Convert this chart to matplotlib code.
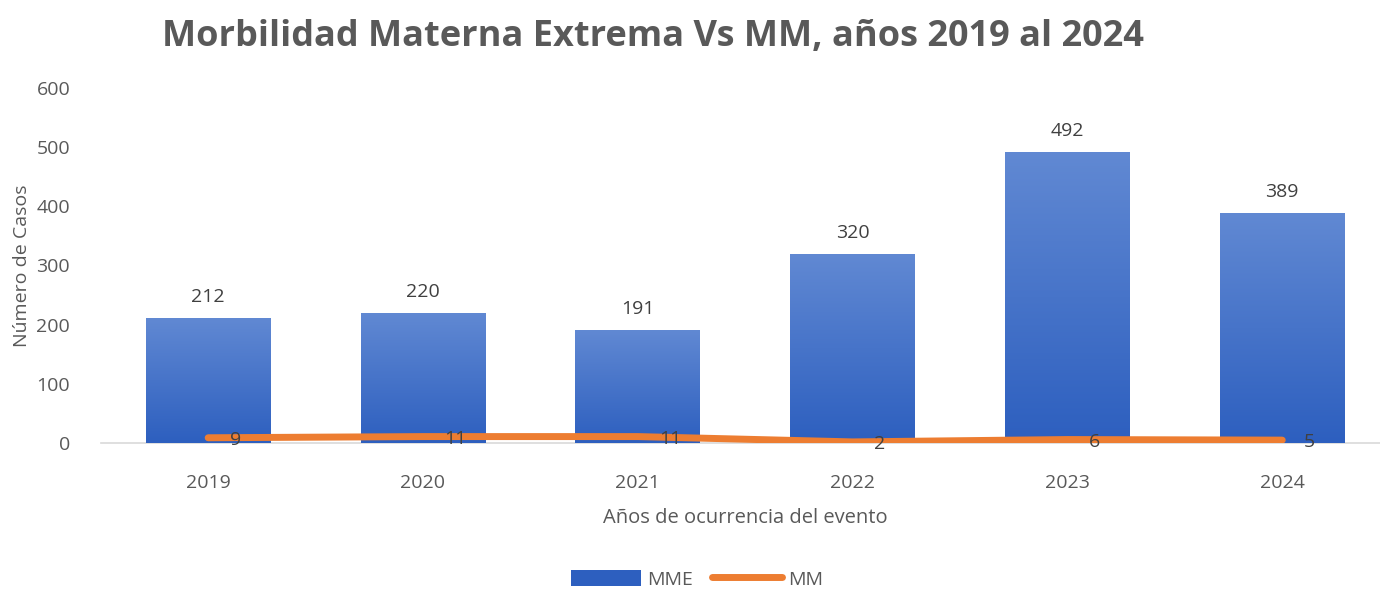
import numpy as np
import matplotlib.pyplot as plt
from matplotlib.colors import LinearSegmentedColormap
from matplotlib.lines import Line2D
from matplotlib.patches import Patch

plt.rcParams['font.family'] = ['Open Sans', 'DejaVu Sans']

years = ["2019", "2020", "2021", "2022", "2023", "2024"]
mme = [212, 220, 191, 320, 492, 389]
mm = [9, 11, 11, 2, 6, 5]

BLUE_TOP = "#6189d3"
BLUE_BOT = "#2d5fbf"
ORANGE = "#ed7d31"
GREY = "#595959"

fig = plt.figure(figsize=(13.8, 5.9), dpi=100)
ax = fig.add_axes([0.073, 0.249, 0.934, 0.602])

x = np.arange(len(years))
bars = ax.bar(x, mme, width=0.58, color=BLUE_BOT, zorder=2)

# vertical gradient inside each bar
cmap = LinearSegmentedColormap.from_list("g", [BLUE_BOT, BLUE_TOP])
grad = np.linspace(0, 1, 256).reshape(-1, 1)
for b in bars:
    x0, y0, w, h = b.get_x(), b.get_y(), b.get_width(), b.get_height()
    im = ax.imshow(grad, cmap=cmap, origin="lower", aspect="auto",
                   extent=(x0, x0 + w, y0, y0 + h), zorder=2.5)
    im.set_clip_path(b)

for xi, v in zip(x, mme):
    ax.text(xi, v + 20, str(v), ha="center", va="bottom", fontsize=14, color="#404040")

ax.plot(x, mm, color=ORANGE, lw=5, solid_capstyle="round", solid_joinstyle="round", zorder=4)
for xi, v in zip(x, mm):
    ax.text(xi + 0.1, v - 4, str(v), ha="left", va="center", fontsize=14, color="#404040", zorder=5)

ax.set_xlim(-0.5, len(years) - 0.5)
ax.set_ylim(0, 600)
ax.set_yticks(range(0, 601, 100))
ax.set_xticks(x)
ax.set_xticklabels(years)
ax.tick_params(length=0, labelsize=14, labelcolor=GREY)
ax.tick_params(axis="x", pad=22)
ax.tick_params(axis="y", pad=22)
for s in ["top", "right", "left"]:
    ax.spines[s].set_visible(False)
ax.spines["bottom"].set_color("#d9d9d9")
ax.spines["bottom"].set_linewidth(1.2)
ax.spines["bottom"].set_zorder(1)

ax.set_xlabel("Años de ocurrencia del evento", fontsize=14.5, color=GREY, labelpad=12)
ax.set_ylabel("Número de Casos", fontsize=14, color=GREY, labelpad=4)

fig.suptitle("Morbilidad Materna Extrema Vs MM, años 2019 al 2024", x=0.473, y=0.968,
             fontsize=26, fontweight="bold", color=GREY)

handles = [Patch(facecolor=BLUE_BOT, edgecolor="none"),
           Line2D([0], [0], color=ORANGE, lw=5, solid_capstyle="round")]
fig.legend(handles, ["MME", "MM"], loc="center", bbox_to_anchor=(0.505, 0.018),
           ncol=2, frameon=False, fontsize=14, labelcolor=GREY,
           handlelength=3.6, handleheight=0.9, columnspacing=1.0, handletextpad=0.3)

fig.savefig("out.png", dpi=100)
